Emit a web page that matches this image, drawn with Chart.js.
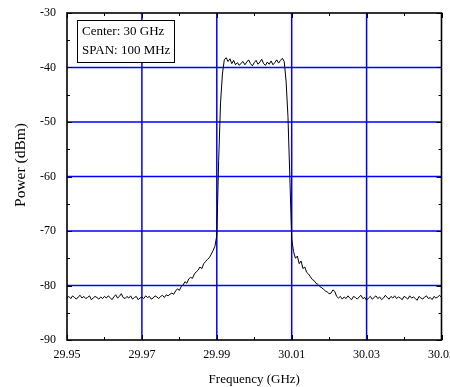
<!DOCTYPE html>
<html>
<head>
<meta charset="utf-8">
<script src="https://cdn.jsdelivr.net/npm/chart.js@4"></script>
<style>
  html, body { margin: 0; padding: 0; background: #fff; }
  #wrap { width: 450px; height: 387px; }
</style>
</head>
<body>
<div id="wrap"><canvas id="spectrum" width="450" height="387"></canvas></div>
<script>
// sweep: 29.95 .. 30.05 GHz, one reading every 0.5 MHz
const freqStart = 29.95;
const freqStep = 0.0005;

// measured power (dBm) per sweep point
const powerDbm = [
  // noise floor, lower side
  -82.3, -82.0, -82.4, -81.9, -82.2, -82.5, -82.1, -81.8, -82.3, -82.0,
  -82.4, -82.2, -81.9, -82.6, -82.3, -82.0, -82.2, -82.5, -82.1, -82.4,
  -82.0, -82.3, -81.9, -82.2, -82.6, -82.1, -81.7, -82.3, -82.0, -81.5,
  -82.2, -82.4, -82.0, -82.3, -81.9, -82.5, -82.2, -82.0, -82.6, -82.3,
  -82.1, -82.4, -81.9, -82.2, -82.0, -82.5, -82.3, -81.9, -82.1, -82.4,
  -82.0, -81.8, -82.2, -81.7, -81.9, -81.6,
  // lower skirt
  -81.4, -81.6, -81.0, -80.6, -80.9, -80.2, -79.9, -79.3, -79.6, -78.8,
  -78.5, -78.7, -77.9, -77.5, -77.2, -76.6, -76.9, -76.0, -75.6, -75.2,
  -74.9, -74.3, -73.6, -72.8,
  // rising edge
  -70.8, -57.0, -46.5, -41.2,
  // passband
  -38.6, -38.2, -38.9, -38.4, -39.3, -38.7, -39.5, -39.1, -39.6, -39.2,
  -38.9, -39.5, -39.0, -38.6, -39.3, -39.7, -39.1, -38.7, -39.4, -39.0,
  -38.5, -39.3, -39.6, -39.0, -39.4, -38.8, -39.5, -39.1, -38.6, -39.2,
  -38.7, -38.3, -38.9,
  // falling edge
  -42.5, -49.0, -60.0, -71.5, -73.8,
  // upper skirt
  -75.0, -74.6, -76.0, -75.5, -76.9, -76.6, -77.6, -77.9, -78.4, -78.9,
  -79.1, -79.6, -79.8, -80.2, -80.4, -80.7, -81.0, -81.2, -81.5, -81.4,
  -80.8, -81.1, -82.0,
  // noise floor, upper side
  -82.3, -82.0, -82.5, -82.1, -82.4, -81.9, -82.3, -82.6, -82.0, -82.2,
  -82.5, -82.1, -81.8, -82.4, -82.2, -82.7, -82.3, -82.0, -82.5, -82.2,
  -81.9, -82.4, -82.1, -82.6, -82.3, -81.8, -82.2, -82.5, -82.0, -82.3,
  -81.9, -82.4, -82.1, -82.3, -82.6, -82.0, -82.2, -82.5, -81.9, -82.3,
  -82.1, -82.4, -82.7, -82.0, -82.3, -82.5, -82.1, -81.9, -82.4, -82.2,
  -82.6, -82.0, -82.3, -82.1, -81.8, -82.2
];

const xTicks = [29.95, 29.97, 29.99, 30.01, 30.03, 30.05];
const xMinorTicks = [29.96, 29.98, 30.00, 30.02, 30.04];
const yTicks = [-90, -80, -70, -60, -50, -40, -30];
const yMinorTicks = [-85, -75, -65, -55, -45, -35];
const infoLines = ['Center: 30 GHz', 'SPAN: 100 MHz'];
const yTitle = 'Power (dBm)';

const freqGHz = powerDbm.map((_, i) => +(freqStart + i * freqStep).toFixed(4));
const trace = powerDbm.map((p, i) => ({ x: freqGHz[i], y: p }));

const serif = '"Liberation Serif", "Times New Roman", serif';

// blue grid on the inner major ticks, drawn under the trace
const gridPlugin = {
  id: 'blueGrid',
  beforeDatasetsDraw(chart) {
    const { ctx, chartArea: a, scales: { x, y } } = chart;
    ctx.save();
    ctx.strokeStyle = 'rgb(0, 0, 255)';
    ctx.lineWidth = 1.5;
    ctx.beginPath();
    xTicks.slice(1, -1).forEach(v => {
      const px = x.getPixelForValue(v);
      ctx.moveTo(px, a.top); ctx.lineTo(px, a.bottom);
    });
    yTicks.slice(1, -1).forEach(v => {
      const py = y.getPixelForValue(v);
      ctx.moveTo(a.left, py); ctx.lineTo(a.right, py);
    });
    ctx.stroke();
    ctx.restore();
  }
};

// black box round the plot, inward ticks on all four sides, info box, y title
const framePlugin = {
  id: 'frame',
  afterDatasetsDraw(chart) {
    const { ctx, chartArea: a, scales: { x, y } } = chart;
    ctx.save();
    ctx.strokeStyle = '#000';
    ctx.lineWidth = 1;
    ctx.beginPath();
    xTicks.forEach(v => {
      const px = Math.round(x.getPixelForValue(v)) + 0.5;
      ctx.moveTo(px, a.bottom); ctx.lineTo(px, a.bottom - 5);
      ctx.moveTo(px, a.top); ctx.lineTo(px, a.top + 5);
    });
    xMinorTicks.forEach(v => {
      const px = Math.round(x.getPixelForValue(v)) + 0.5;
      ctx.moveTo(px, a.bottom); ctx.lineTo(px, a.bottom - 3);
      ctx.moveTo(px, a.top); ctx.lineTo(px, a.top + 3);
    });
    yTicks.forEach(v => {
      const py = Math.round(y.getPixelForValue(v)) + 0.5;
      ctx.moveTo(a.left, py); ctx.lineTo(a.left + 5, py);
      ctx.moveTo(a.right, py); ctx.lineTo(a.right - 5, py);
    });
    yMinorTicks.forEach(v => {
      const py = Math.round(y.getPixelForValue(v)) + 0.5;
      ctx.moveTo(a.left, py); ctx.lineTo(a.left + 3, py);
      ctx.moveTo(a.right, py); ctx.lineTo(a.right - 3, py);
    });
    ctx.stroke();

    ctx.lineWidth = 1.6;
    ctx.strokeRect(a.left, a.top, a.right - a.left, a.bottom - a.top);

    // info box, upper left
    const bx = a.left + 10, by = a.top + 7, bw = 97, bh = 42;
    ctx.fillStyle = '#fff';
    ctx.fillRect(bx, by, bw, bh);
    ctx.lineWidth = 1;
    ctx.strokeRect(bx + 0.5, by + 0.5, bw, bh);
    ctx.fillStyle = '#000';
    ctx.font = '13px ' + serif;
    ctx.textBaseline = 'middle';
    ctx.textAlign = 'left';
    infoLines.forEach((t, i) => ctx.fillText(t, bx + 5, by + 12 + i * 19));

    // y axis title, sits a little above the plot's middle
    ctx.translate(21, 165);
    ctx.rotate(-Math.PI / 2);
    ctx.textAlign = 'center';
    ctx.font = '15.5px ' + serif;
    ctx.fillText(yTitle, 0, 0);
    ctx.restore();
  }
};

const ctx = document.getElementById('spectrum').getContext('2d');

new Chart(ctx, {
  type: 'line',
  data: {
    datasets: [{
      data: trace,
      borderColor: '#000',
      borderWidth: 1,
      pointRadius: 0,
      tension: 0,
      fill: false
    }]
  },
  options: {
    responsive: false,
    animation: false,
    events: [],
    layout: { padding: { top: 13, right: 8.5, bottom: 0, left: 0 } },
    plugins: {
      legend: { display: false },
      tooltip: { enabled: false }
    },
    scales: {
      x: {
        type: 'linear',
        min: 29.95,
        max: 30.05,
        afterBuildTicks: scale => { scale.ticks = xTicks.map(v => ({ value: v })); },
        afterFit: scale => {
          scale.height = 47;
          scale.paddingLeft = 0;
          scale.paddingRight = 0;
        },
        ticks: {
          color: '#000',
          font: { family: serif, size: 12 },
          padding: 0,
          maxRotation: 0,
          autoSkip: false,
          callback: v => v.toFixed(2)
        },
        grid: { display: false },
        border: { display: false },
        title: {
          display: true,
          text: 'Frequency (GHz)',
          color: '#000',
          font: { family: serif, size: 13 },
          padding: { top: 1, bottom: 0 }
        }
      },
      y: {
        min: -90,
        max: -30,
        afterBuildTicks: scale => { scale.ticks = yTicks.map(v => ({ value: v })); },
        afterFit: scale => { scale.width = 67; },
        ticks: {
          color: '#000',
          font: { family: serif, size: 12 },
          padding: 3
        },
        grid: { display: false },
        border: { display: false }
      }
    }
  },
  plugins: [gridPlugin, framePlugin]
});
</script>
</body>
</html>
